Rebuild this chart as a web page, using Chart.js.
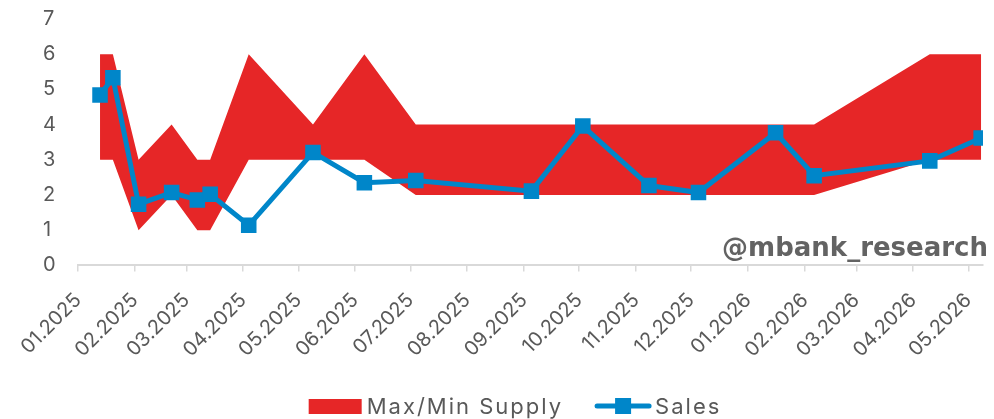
<!DOCTYPE html>
<html>
<head>
<meta charset="utf-8">
<script src="https://cdn.jsdelivr.net/npm/chart.js@4.4.1/dist/chart.umd.min.js"></script>
<style>
  html, body { margin: 0; padding: 0; background: #fff; }
  #wrap { width: 994px; height: 419px; position: relative; }
</style>
</head>
<body>
<div id="wrap"><canvas id="supplyChart"></canvas></div>
<script>
// observation dates (shared by sales and supply band)
const obsDates = [
  '2025-01-13', '2025-01-20', '2025-02-03', '2025-02-21', '2025-03-07', '2025-03-14',
  '2025-04-04', '2025-05-09', '2025-06-06', '2025-07-04', '2025-09-05', '2025-10-03',
  '2025-11-08', '2025-12-05', '2026-01-16', '2026-02-06', '2026-04-10', '2026-05-08'
];
const salesValues = [4.84, 5.33, 1.74, 2.07, 1.86, 2.02, 1.14, 3.21, 2.35, 2.41, 2.11, 3.96, 2.27, 2.07, 3.77, 2.55, 2.97, 3.62];
const supplyMax   = [6, 6, 3, 4, 3, 3, 6, 4, 6, 4, 4, 4, 4, 4, 4, 4, 6, 6];
const supplyMin   = [3, 3, 1, 2, 1, 1, 3, 3, 3, 2, 2, 2, 2, 2, 2, 2, 3, 3];

// x axis ticks (month starts)
const tickDates = [
  '2025-01-01', '2025-02-01', '2025-03-01', '2025-04-01', '2025-05-01', '2025-06-01',
  '2025-07-01', '2025-08-01', '2025-09-01', '2025-10-01', '2025-11-01', '2025-12-01',
  '2026-01-01', '2026-02-01', '2026-03-01', '2026-04-01', '2026-05-01'
];
const tickLabels = [
  '01.2025', '02.2025', '03.2025', '04.2025', '05.2025', '06.2025', '07.2025', '08.2025',
  '09.2025', '10.2025', '11.2025', '12.2025', '01.2026', '02.2026', '03.2026', '04.2026', '05.2026'
];
const axisStart = '2025-01-01';
const axisEnd = '2026-05-09';

const RED = '#E62627';
const BLUE = '#0086C9';
const GREY = '#595959';
const FONT = 'Inter';

// days since axis start
const toDay = s => (Date.parse(s) - Date.parse(axisStart)) / 86400000;
const tickDays = tickDates.map(toDay);

const pts = vals => obsDates.map((d, i) => ({ x: toDay(d), y: vals[i] }));

// watermark
const watermark = {
  id: 'watermark',
  afterDatasetsDraw(chart) {
    const { ctx, chartArea } = chart;
    ctx.save();
    ctx.font = 'bold 26px "DejaVu Sans"';
    ctx.fillStyle = '#636363';
    ctx.textAlign = 'right';
    ctx.textBaseline = 'alphabetic';
    ctx.fillText('@mbank_research', chartArea.right + 5, chartArea.bottom - 9);
    ctx.restore();
  }
};

// legend: red box for the band, line + square for sales
const bottomLegend = {
  id: 'bottomLegend',
  afterDraw(chart) {
    const { ctx } = chart;
    const y = chart.height - 13;
    ctx.save();
    ctx.font = '22px ' + FONT;
    ctx.letterSpacing = '2px';
    ctx.fillStyle = GREY;
    ctx.textBaseline = 'middle';
    const t1 = 'Max/Min Supply', t2 = 'Sales';
    const w1 = ctx.measureText(t1).width;
    const w2 = ctx.measureText(t2).width;
    const total = 53 + 5 + w1 + 32 + 56 + 4 + w2;
    let x = chart.width / 2 + 18 - total / 2;

    ctx.fillStyle = RED;
    ctx.fillRect(x, y - 7, 53, 15);
    x += 58;
    ctx.fillStyle = GREY;
    ctx.fillText(t1, x, y + 1);
    x += w1 + 32;

    ctx.strokeStyle = BLUE;
    ctx.lineWidth = 5;
    ctx.lineCap = 'round';
    ctx.beginPath();
    ctx.moveTo(x + 2, y);
    ctx.lineTo(x + 54, y);
    ctx.stroke();
    ctx.fillStyle = BLUE;
    ctx.fillRect(x + 20, y - 8, 16, 16);
    x += 60;
    ctx.fillStyle = GREY;
    ctx.fillText(t2, x, y + 1);
    ctx.restore();
  }
};

const ctx = document.getElementById('supplyChart').getContext('2d');
new Chart(ctx, {
  type: 'line',
  data: {
    datasets: [
      {
        label: 'Sales',
        data: pts(salesValues),
        borderColor: BLUE,
        backgroundColor: BLUE,
        borderWidth: 5,
        pointStyle: 'rect',
        pointRadius: 11,
        pointBorderWidth: 0,
        pointBackgroundColor: BLUE,
        fill: false,
        tension: 0
      },
      {
        label: 'Min Supply',
        data: pts(supplyMin),
        borderWidth: 0,
        borderColor: 'rgba(0,0,0,0)',
        pointRadius: 0,
        fill: false,
        tension: 0
      },
      {
        label: 'Max/Min Supply',
        data: pts(supplyMax),
        borderWidth: 0,
        borderColor: 'rgba(0,0,0,0)',
        backgroundColor: RED,
        pointRadius: 0,
        fill: '-1',
        tension: 0
      }
    ]
  },
  options: {
    responsive: true,
    maintainAspectRatio: false,
    animation: false,
    layout: { padding: { top: 19, left: 43, right: 11, bottom: 40 } },
    plugins: {
      tooltip: { enabled: false },
      legend: { display: false }
    },
    scales: {
      x: {
        type: 'linear',
        min: toDay(axisStart),
        max: toDay(axisEnd),
        afterBuildTicks(axis) {
          axis.ticks = tickDays.map(v => ({ value: v }));
        },
        afterFit(axis) { axis.paddingRight = 0; },
        grid: { display: true, drawOnChartArea: false, tickLength: 6, color: '#D9D9D9', lineWidth: 1.5 },
        border: { display: true, color: '#D9D9D9', width: 2 },
        ticks: {
          autoSkip: false,
          minRotation: 45,
          maxRotation: 45,
          padding: 17,
          color: GREY,
          font: { family: FONT, size: 20 },
          callback: v => tickLabels[tickDays.indexOf(v)]
        }
      },
      y: {
        min: 0,
        max: 7,
        afterFit(axis) { axis.width = 35; },
        grid: { display: false, drawTicks: false },
        border: { display: false },
        ticks: {
          stepSize: 1,
          padding: 0,
          crossAlign: 'far',
          color: GREY,
          font: { family: FONT, size: 20 }
        }
      }
    }
  },
  plugins: [watermark, bottomLegend]
});
</script>
</body>
</html>
